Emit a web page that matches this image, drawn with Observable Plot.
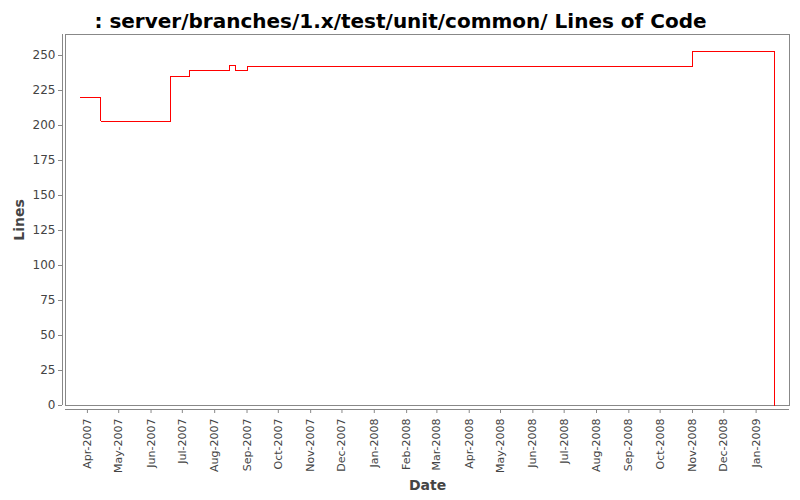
<!DOCTYPE html>
<html>
<head>
<meta charset="utf-8">
<script src="https://cdn.jsdelivr.net/npm/d3@7"></script>
<script src="https://cdn.jsdelivr.net/npm/@observablehq/plot@0.6"></script>
<style>
  body { margin: 0; background: #fff; font-family: "DejaVu Sans", sans-serif; }
</style>
</head>
<body>
<div id="chart"></div>
<script>
const title = ": server/branches/1.x/test/unit/common/ Lines of Code";
const dates = ["2007-03-25", "2007-04-14", "2007-06-20", "2007-07-08", "2007-08-15", "2007-08-21", "2007-09-01", "2008-11-01", "2009-01-19"];
const lines = [220, 203, 235, 239, 243, 239, 242, 253, 0];
const yTicks = [0, 25, 50, 75, 100, 125, 150, 175, 200, 225, 250];
const xDomain = ["2007-03-11", "2009-02-02"];
const yDomain = [0, 265];

const data = dates.map((d, i) => ({date: new Date(d + "T00:00:00Z"), lines: lines[i]}));
const xd = xDomain.map(d => new Date(d + "T00:00:00Z"));
const monthTicks = d3.utcMonth.range(new Date("2007-04-01T00:00:00Z"), new Date("2009-01-02T00:00:00Z"));

const plot = Plot.plot({
  width: 800,
  height: 500,
  marginLeft: 65,
  marginRight: 11,
  marginTop: 34,
  marginBottom: 95,
  style: {fontFamily: "DejaVu Sans, sans-serif", fontSize: "11px", color: "#444", background: "#fff"},
  x: {type: "utc", domain: xd},
  y: {domain: yDomain},
  marks: [
    Plot.frame({stroke: "#888", strokeWidth: 1}),
    Plot.ruleY([0], {dy: 4, stroke: "#888"}),
    Plot.ruleX([xd[0]], {dx: -3, stroke: "#888"}),
    Plot.axisX({ticks: monthTicks, tickFormat: d3.utcFormat("%b-%Y"), tickRotate: -90, tickSize: 4, dy: 4, tickPadding: 5, stroke: "#888", fill: "#444", fontSize: 11, label: null}),
    Plot.axisY({ticks: yTicks, tickSize: 4, dx: -3, tickPadding: 3, stroke: "#888", fill: "#444", fontSize: 12, label: null}),
    Plot.line(data, {x: "date", y: "lines", curve: "step-after", stroke: "#ff0000", strokeWidth: 1, shapeRendering: "crispEdges"}),
    Plot.text([title], {frameAnchor: "top", dx: -27, dy: -21, fontSize: 20, fontWeight: "bold", fill: "#000"}),
    Plot.text(["Date"], {frameAnchor: "bottom", dy: 84, fontSize: 14, fontWeight: "bold", fill: "#444"}),
    Plot.text(["Lines"], {frameAnchor: "left", textAnchor: "middle", dx: -46, rotate: -90, fontSize: 14, fontWeight: "bold", fill: "#444"})
  ]
});
document.getElementById("chart").appendChild(plot);
</script>
</body>
</html>
